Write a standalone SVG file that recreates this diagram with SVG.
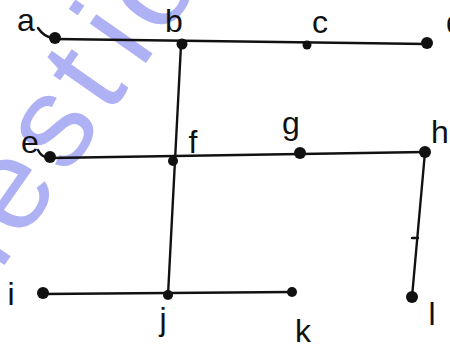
<svg xmlns="http://www.w3.org/2000/svg" width="450" height="347" viewBox="0 0 450 347">
<style>
.wm{font-family:"Liberation Sans",Arial,sans-serif;font-size:130px;fill:#aeb2f5;text-anchor:middle}
.edge{stroke:#111;stroke-width:2.4;fill:none;stroke-linecap:round}
.dot{fill:#111}
.lbl{font-family:"Liberation Sans",Arial,sans-serif;font-size:32px;fill:#111;text-anchor:middle}
</style>
<rect width="450" height="347" fill="#fff"/>
<g id="watermark" transform="translate(85,150) rotate(-55)">
<text class="wm" x="-157" y="0">u</text>
<text class="wm" x="-77" y="0">e</text>
<text class="wm" x="0" y="0">s</text>
<text class="wm" x="59" y="0">t</text>
<text class="wm" x="112" y="0">i</text>
<text class="wm" x="171" y="0">o</text>
<text class="wm" x="251" y="0">n</text>
</g>
<g id="edges">
<path class="edge" d="M55,39 L427,44"/>
<path class="edge" d="M50,158 L425,152"/>
<path class="edge" d="M43,294 L292,292"/>
<path class="edge" d="M181,45 L168,295"/>
<path class="edge" d="M425,152 L412,297"/>
<path class="edge" d="M412,238 L418,238"/>
<path class="edge" d="M38,28 Q44,37 53,38" stroke-width="2"/>
<path class="edge" d="M38,150 Q42,158 48,157" stroke-width="2"/>
</g>
<g id="node-a"><circle class="dot" cx="55" cy="38" r="6"/><text class="lbl" x="26" y="31">a</text></g>
<g id="node-b"><circle class="dot" cx="182" cy="44" r="5.5"/><text class="lbl" x="174" y="32">b</text></g>
<g id="node-c"><circle class="dot" cx="307" cy="45" r="4.5"/><text class="lbl" x="320" y="33">c</text></g>
<g id="node-d"><circle class="dot" cx="427" cy="43" r="6"/><text class="lbl" x="455" y="33">d</text></g>
<g id="node-e"><circle class="dot" cx="50" cy="157" r="6"/><text class="lbl" x="30" y="153">e</text></g>
<g id="node-f"><circle class="dot" cx="173" cy="161" r="5"/><text class="lbl" x="193" y="153">f</text></g>
<g id="node-g"><circle class="dot" cx="300" cy="153" r="6"/><text class="lbl" x="291" y="134">g</text></g>
<g id="node-h"><circle class="dot" cx="425" cy="152" r="6"/><text class="lbl" x="440" y="143">h</text></g>
<g id="node-i"><circle class="dot" cx="43" cy="293" r="6"/><text class="lbl" x="11" y="305">i</text></g>
<g id="node-j"><circle class="dot" cx="168" cy="295" r="5"/><text class="lbl" x="163" y="330">j</text></g>
<g id="node-k"><circle class="dot" cx="292" cy="292" r="5"/><text class="lbl" x="303" y="342">k</text></g>
<g id="node-l"><circle class="dot" cx="412" cy="297" r="6"/><text class="lbl" x="432" y="325">l</text></g>
</svg>
